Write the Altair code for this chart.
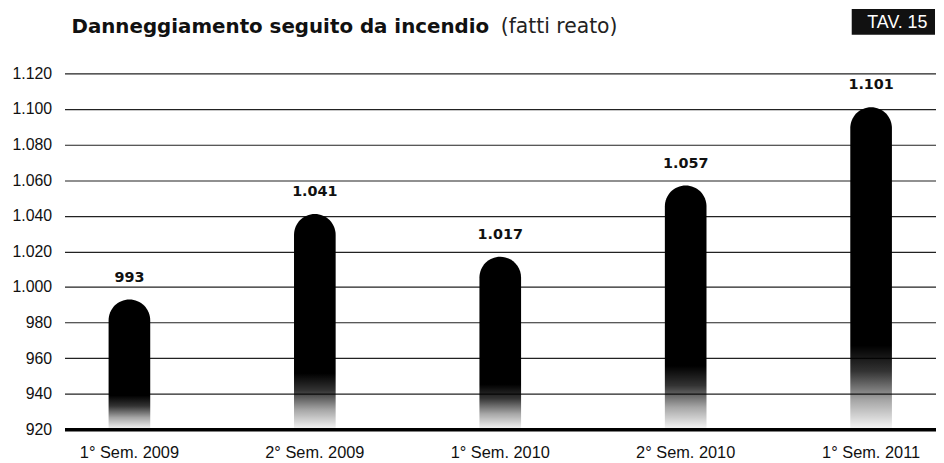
import altair as alt
import pandas as pd

categories = ["1° Sem. 2009", "2° Sem. 2009", "1° Sem. 2010", "2° Sem. 2010", "1° Sem. 2011"]
values = [993, 1041, 1017, 1057, 1101]
y_ticks = [920, 940, 960, 980, 1000, 1020, 1040, 1060, 1080, 1100, 1120]
title_main = "Danneggiamento seguito da incendio"
title_note = "(fatti reato)"
tav_label = "TAV. 15"

df = pd.DataFrame({"periodo": categories, "valore": values})

dot_fmt = "replace(format(datum.valore, ','), ',', '.')"

x_scale = alt.Scale(paddingInner=0.5, paddingOuter=0.1)
y_scale = alt.Scale(domain=[920, 1120], nice=False, zero=False)

x_enc = alt.X(
    "periodo:N",
    sort=categories,
    scale=x_scale,
    axis=alt.Axis(
        title=None, labelAngle=0, ticks=False, domainWidth=3.5, domainColor="#000",
        labelPadding=23, labelBaseline="middle", labelFont="Liberation Sans",
        labelFontSize=16.5, labelColor="#111",
    ),
)
y_enc = alt.Y(
    "valore:Q",
    scale=y_scale,
    axis=alt.Axis(
        title=None, values=y_ticks, tickCount=11, labelOverlap=False,
        labelExpr="replace(format(datum.value, ','), ',', '.')",
        ticks=False, domain=False, grid=True, gridColor="#222", gridWidth=1.2,
        gridOpacity=1, labelPadding=13, labelFont="Liberation Sans",
        labelFontSize=16, labelColor="#111",
    ),
)

grad = alt.Gradient(
    gradient="linear",
    stops=[
        alt.GradientStop(color="#000000", offset=0),
        alt.GradientStop(color="#000000", offset=0.74),
        alt.GradientStop(color="rgba(0,0,0,0.8)", offset=0.82),
        alt.GradientStop(color="rgba(0,0,0,0.35)", offset=0.91),
        alt.GradientStop(color="rgba(0,0,0,0.03)", offset=1),
    ],
    x1=0, x2=0, y1=0, y2=1,
)

base = alt.Chart(df)

bars = base.mark_bar(
    size=42, color=grad, cornerRadiusTopLeft=21, cornerRadiusTopRight=21
).encode(x=x_enc, y=y_enc, y2=alt.datum(920))

labels = base.transform_calculate(label=dot_fmt).mark_text(
    dy=-22, baseline="middle", font="DejaVu Sans", fontWeight="bold",
    fontSize=14.5, color="#111",
).encode(x=x_enc, y=y_enc, text="label:N")

t_main = alt.Chart(pd.DataFrame({"t": [title_main]})).mark_text(
    align="left", baseline="alphabetic", font="DejaVu Sans", fontWeight="bold",
    fontSize=20, color="#111",
).encode(text="t:N", x=alt.value(7), y=alt.value(-41))

t_note = alt.Chart(pd.DataFrame({"t": [title_note]})).mark_text(
    align="left", baseline="alphabetic", font="DejaVu Sans", fontWeight="normal",
    fontSize=20.5, color="#222",
).encode(text="t:N", x=alt.value(440), y=alt.value(-41))

tav_box = alt.Chart(pd.DataFrame({"t": [tav_label]})).mark_rect(color="#111").encode(
    x=alt.value(794), x2=alt.value(878), y=alt.value(-65), y2=alt.value(-39)
)
tav_text = alt.Chart(pd.DataFrame({"t": [tav_label]})).mark_text(
    align="center", baseline="middle", font="Liberation Sans", fontSize=18,
    color="white",
).encode(text="t:N", x=alt.value(840), y=alt.value(-51))

chart = alt.layer(bars, labels, t_main, t_note, tav_box, tav_text).properties(
    width=879, height=359,
    padding={"left": 57, "top": 64, "right": 0, "bottom": 32},
    autosize="none", background="white",
).configure_view(stroke=None)

chart.save("out.html", embed_options={"renderer": "svg", "actions": False})
